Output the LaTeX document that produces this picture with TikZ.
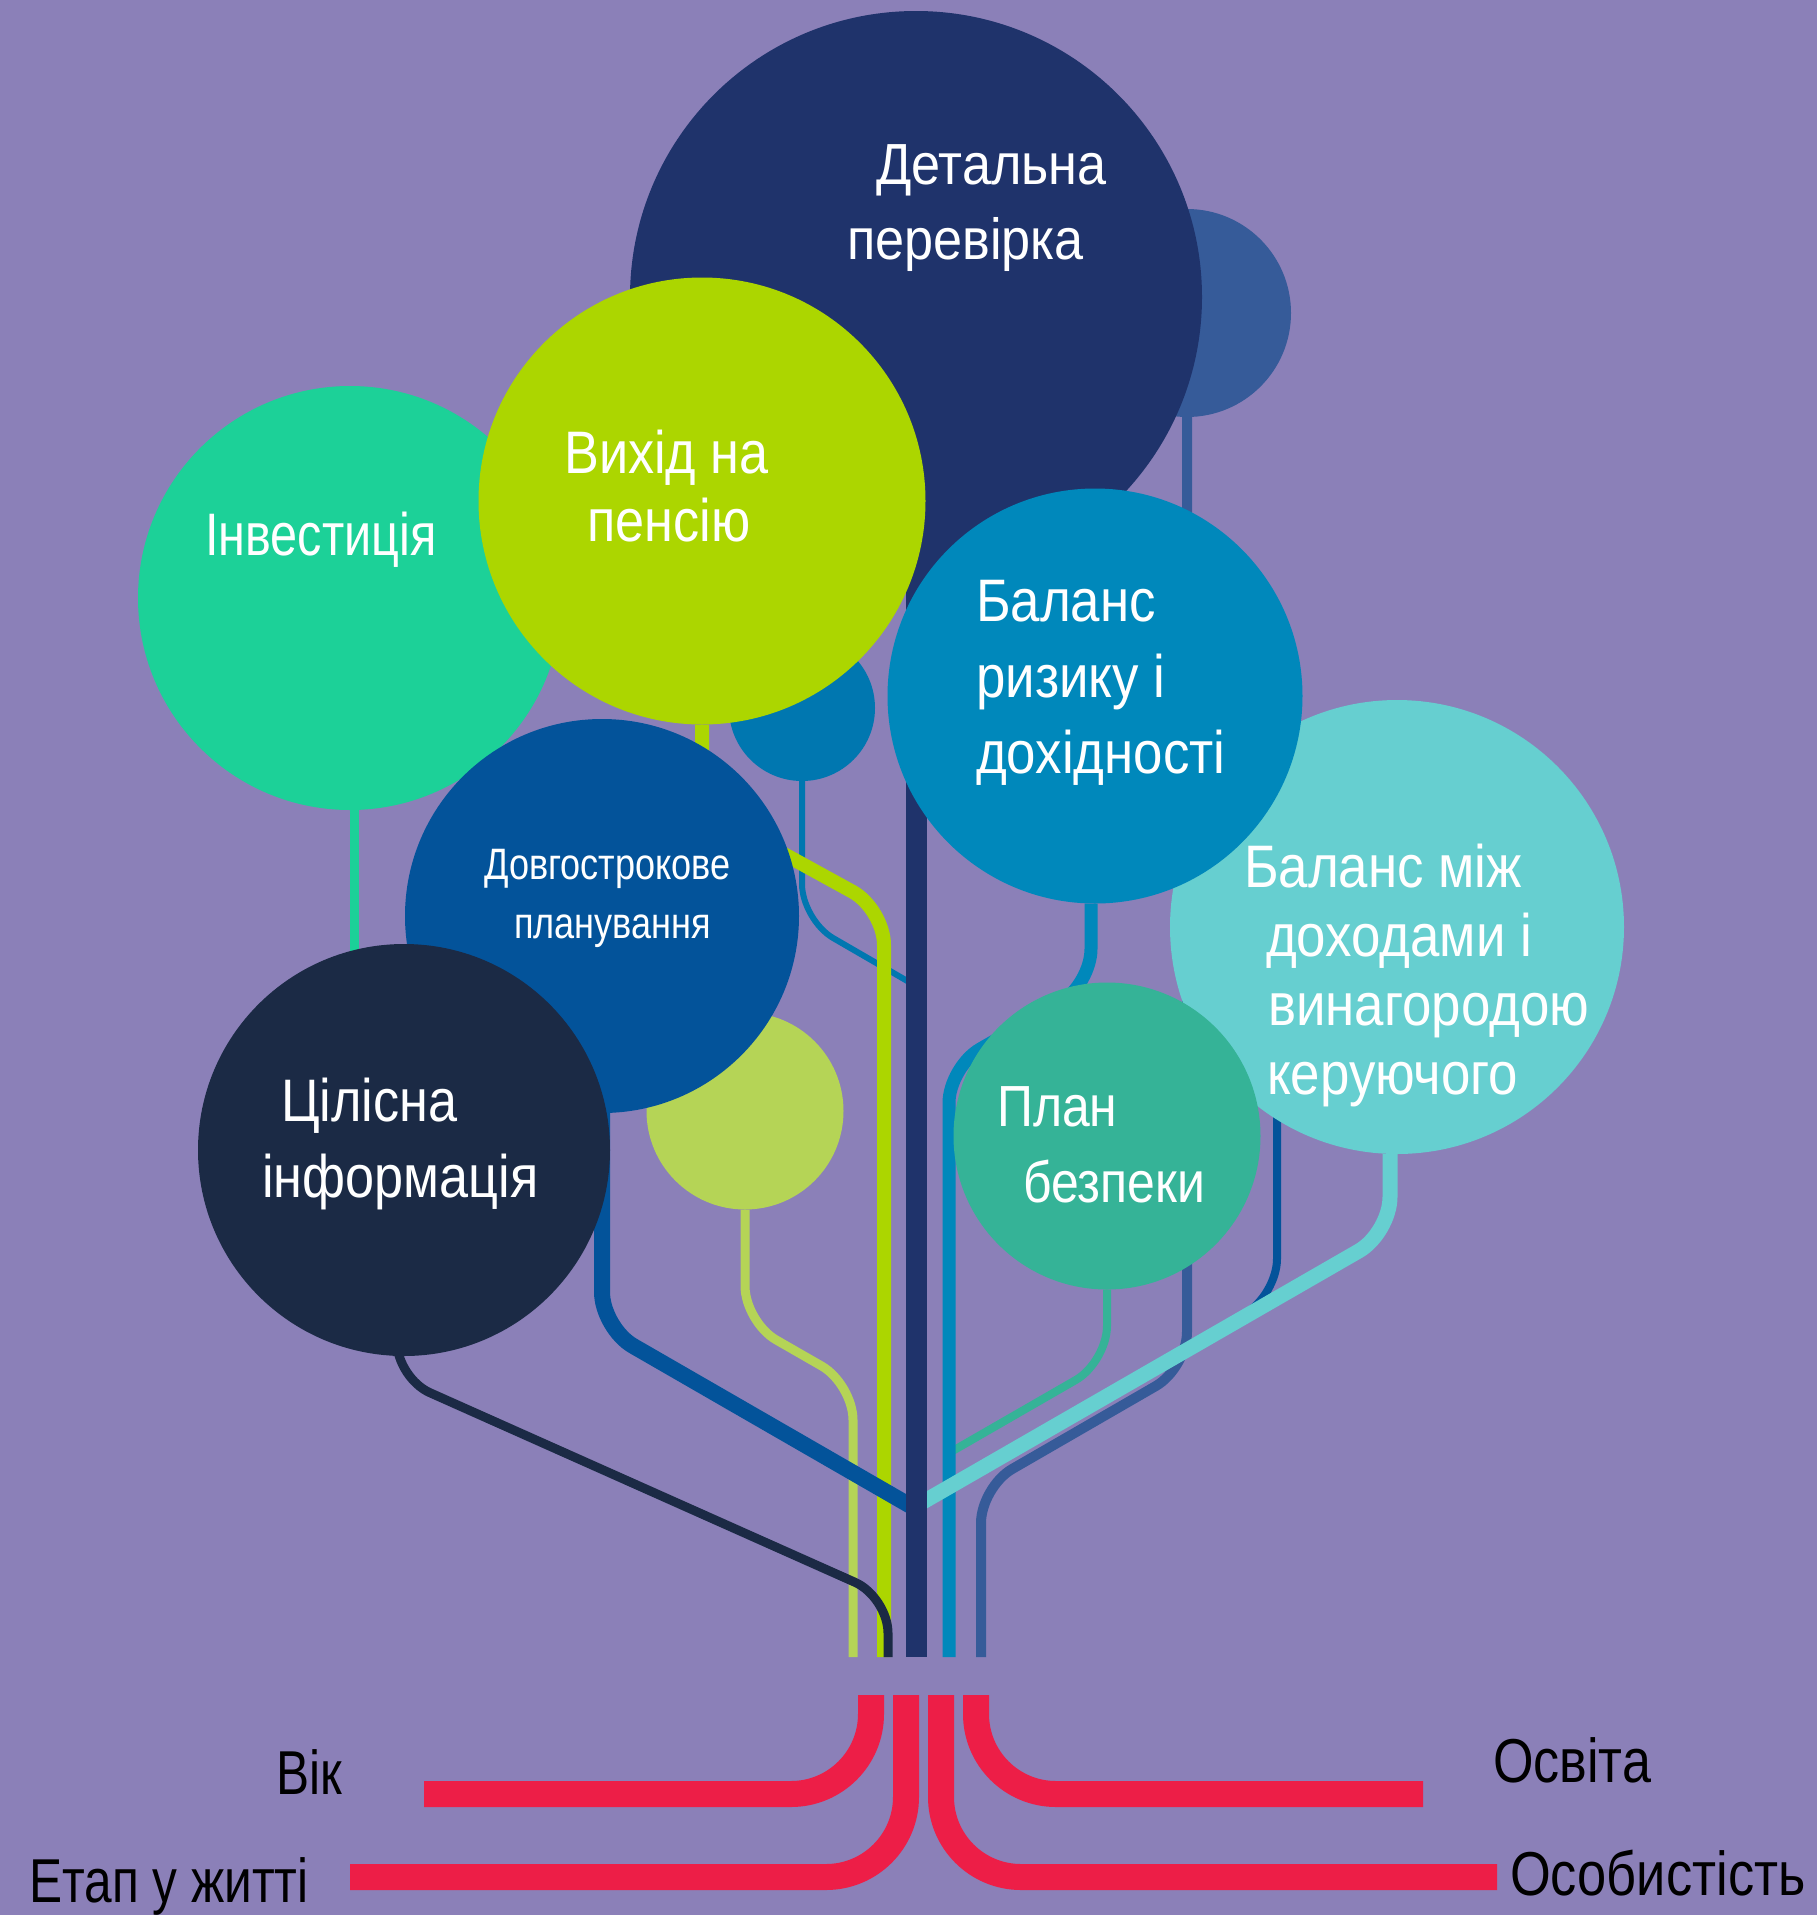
\documentclass[tikz,border=0pt]{standalone}
\usepackage{fontspec}
\setmainfont{Liberation Sans}
\usetikzlibrary{backgrounds}

\definecolor{cBg}{HTML}{8B80B8}
\definecolor{cNavy}{HTML}{1F336B}
\definecolor{cSteel}{HTML}{365B99}
\definecolor{cMint}{HTML}{1CD198}
\definecolor{cLime}{HTML}{ACD600}
\definecolor{cOcean}{HTML}{0077B0}
\definecolor{cRisk}{HTML}{0088BB}
\definecolor{cAqua}{HTML}{66CFD0}
\definecolor{cRoyal}{HTML}{03539A}
\definecolor{cInk}{HTML}{1B2A45}
\definecolor{cPista}{HTML}{B5D456}
\definecolor{cSea}{HTML}{35B397}
\definecolor{cRed}{HTML}{ED1E47}

% size, line skip, horizontal squeeze
\newcommand\lblfont[3]{\fontsize{#1}{#2}\selectfont\addfontfeature{FakeStretch=#3}}

\pgfdeclarelayer{bg}
\pgfdeclarelayer{branches}
\pgfsetlayers{bg,branches,main}

\begin{document}
\begin{tikzpicture}[x=1pt,y=-1pt,
  ball/.style={circle,inner sep=0pt,fill=#1},
  branch/.style={draw=#1,rounded corners=36pt},
  lbl/.style={text=white,align=left,anchor=base west,inner sep=0pt},
  root/.style={draw=cRed,line width=26pt,rounded corners=80pt}]
  \path[use as bounding box] (0,0) rectangle (1817,1915);
  \begin{pgfonlayer}{bg}
    \fill[cBg] (0,0) rectangle (1817,1915);
  \end{pgfonlayer}

  % crown of the tree
  \node[ball=cSteel,minimum size=208pt] (steel) at (1187,313) {};
  \node[ball=cNavy,minimum size=572pt] (detail) at (916,297) {};
  \node[ball=cMint,minimum size=424pt] (invest) at (350,598) {};
  \node[ball=cOcean,minimum size=146pt] (dot) at (802,708) {};
  \node[ball=cLime,minimum size=447pt] (retire) at (702,501) {};
  \node[ball=cAqua,minimum size=454pt] (reward) at (1397,927) {};
  \node[ball=cRisk,minimum size=415pt] (risk) at (1095,696) {};
  \node[ball=cSea,minimum size=307pt] (safety) at (1107,1136) {};
  \node[ball=cPista,minimum size=197pt] (pista) at (745,1111) {};
  \node[ball=cRoyal,minimum size=394pt] (longterm) at (602,916) {};
  \node[ball=cInk,minimum size=412pt] (whole) at (404,1150) {};

  % labels sit on the baseline of their last line
  \node[lbl,font=\lblfont{58}{75}{0.9}] (detailtxt) at (847,259)
    {\hspace*{29pt}Детальна\\перевірка};
  \node[lbl,font=\lblfont{60}{70}{0.81}] (investtxt) at (205,555) {Інвестиція};
  \node[lbl,font=\lblfont{60}{68}{0.87}] (retiretxt) at (564,541)
    {Вихід на\\\hspace*{23pt}пенсію};
  \node[lbl,font=\lblfont{60}{76}{0.88}] (risktxt) at (976,773)
    {Баланс\\ризику і\\дохідності};
  \node[lbl,font=\lblfont{60}{69}{0.88}] (rewardtxt) at (1244,1094)
    {Баланс між\\\hspace*{22pt}доходами і\\\hspace*{24pt}винагородою\\\hspace*{23pt}керуючого};
  \node[lbl,font=\lblfont{58}{76}{0.86}] (safetytxt) at (997,1202)
    {План\\\hspace*{26pt}безпеки};
  \node[lbl,font=\lblfont{44}{59}{0.82}] (longtermtxt) at (484,938)
    {Довгострокове\\\hspace*{30pt}планування};
  \node[lbl,font=\lblfont{60}{76}{0.87}] (wholetxt) at (262,1197)
    {\hspace*{19pt}Цілісна\\інформація};

  % branches down to the trunk
  \begin{pgfonlayer}{branches}
    \draw[branch=cMint,line width=9pt] ([xshift=4pt]invest.south) -- ++(0,200);
    \draw[branch=cOcean,line width=6pt] (dot.south) -- (802,920) -- (916,986);
    \draw[branch=cSteel,line width=10pt] (steel.south) -- (1187,1368) -- (981,1487) -- (981,1657);
    \draw[branch=cRoyal,line width=8pt] ([xshift=-120pt]reward.center) -- (1277,1295) -- (1153,1367);
    \draw[branch=cSea,line width=8pt] (safety.south) -- (1107,1362) -- (949,1453);
    \draw[branch=cRisk,line width=13pt] ([xshift=-4pt]risk.south) -- (1091,985) -- (949,1067) -- (949,1657);
    \draw[branch=cAqua,line width=15pt] ([xshift=-7pt]reward.south) -- (1390,1233) -- (916,1506);
    \draw[branch=cPista,line width=9pt] (pista.south) -- (745,1322) -- (853,1384) -- (853,1657);
    \draw[branch=cLime,line width=14pt] (retire.south) -- (702,809) -- (884,909) -- (884,1657);
    \draw[branch=cRoyal,line width=16pt] (longterm.south) -- (602,1328) -- (916,1509);
    \draw[branch=cInk,line width=9pt] ([xshift=-7pt]whole.south) -- (397,1378) -- (888,1597) -- (888,1657);
    \draw[branch=cNavy,line width=21pt] (detail.center) -- (916,1657);
  \end{pgfonlayer}

  % roots
  \coordinate (rootA) at (871,1695);
  \coordinate (rootB) at (906,1695);
  \coordinate (rootC) at (941,1695);
  \coordinate (rootD) at (976,1695);
  \draw[root] (rootA) -- (871,1794) -- (424,1794);
  \draw[root] (rootB) -- (906,1877) -- (350,1877);
  \draw[root] (rootC) -- (941,1877) -- (1497,1877);
  \draw[root] (rootD) -- (976,1794) -- (1423,1794);

  \node[lbl,text=black,font=\lblfont{62}{70}{0.8}] (age) at (276,1794) {Вік};
  \node[lbl,text=black,font=\lblfont{62}{70}{0.8}] (stage) at (29,1902) {Етап у житті};
  \node[lbl,text=black,font=\lblfont{62}{70}{0.84}] (edu) at (1493,1782) {Освіта};
  \node[lbl,text=black,font=\lblfont{62}{70}{0.845}] (person) at (1510,1895) {Особистість};
\end{tikzpicture}
\end{document}
